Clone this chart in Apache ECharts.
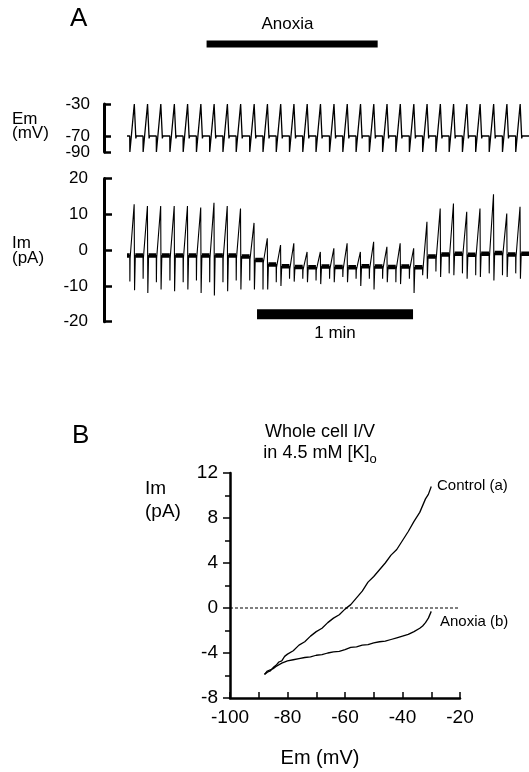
<!DOCTYPE html>
<html><head><meta charset="utf-8">
<script src="https://cdn.jsdelivr.net/npm/echarts@6/dist/echarts.min.js"></script>
<style>html,body{margin:0;padding:0;background:#fff}#c{width:529px;height:772px}</style>
</head><body><div id="c"></div>
<script>
// ---------- Panel A data (time in s) ----------
const peakTimes = [2.8, 7.9, 13.0, 18.2, 23.3, 28.4, 33.5, 38.6, 43.7, 48.9, 54.0, 59.1, 64.2, 69.3, 74.4, 79.6, 84.7, 89.8, 94.9, 100.0, 105.1, 110.3, 115.4, 120.5, 125.6, 130.7, 135.8, 141.0, 146.1, 151.2];
// voltage protocol, one cycle relative to each peak
const emCycleDt = [-1.75, -1.7, -1.55, 0, 0.6, 0.8];
const emCycleMv = [-70, -90, -88, -30, -73, -70];
const emStart = -70;
const traceEnd = 154.6;
// current trace, per cycle
const imPeak = [12.8, 12.3, 12.3, 12.3, 12.3, 11.9, 13.2, 12.3, 11.6, 7.6, 3.3, 1.4, 1.9, -0.5, -0.5, 0.5, 1.9, -0.5, 2.3, 0.9, 1.9, 0.5, 7.9, 11.6, 13.0, 10.7, 11.6, 15.6, 10.2, 12.1];
const imStep = [-8.8, -8, -9, -8.5, -9, -8.5, -9, -9, -8.5, -8.5, -11, -9, -8, -8, -8.5, -8, -7.5, -8, -8, -8, -9, -8, -7, -6, -6.5, -6.5, -7, -6.5, -7, -6.5];
const imDip = [-11.2, -12, -11, -11.5, -11, -12, -12.7, -11.5, -11, -11, -11, -10, -8.8, -9, -9.5, -9, -9, -10, -11, -9, -9.5, -12, -8, -7.5, -7, -8, -7.5, -8.5, -7.5, -8];
const imStart = -1.5;
const imBase = [-1.5, -1.5, -1.5, -1.5, -1.5, -1.5, -1.5, -1.5, -1.8, -2.8, -4.0, -4.5, -4.7, -4.8, -4.6, -4.7, -4.8, -4.5, -4.6, -4.7, -4.6, -4.8, -1.8, -1.2, -1.0, -1.3, -1.0, -0.8, -1.2, -1.0];
const anoxiaPeriod = [30.6, 96.4];
const scaleBar = [50, 110]; // 1 min
const scaleBarLevel = -17.9;
const emTicks = [-90, -70, -30];
const emLabelsUpper = [-70, -30];
const emLabelsLower = [-90];

// ---------- Panel B data ----------
const controlEm = [-88, -87, -86, -85, -84, -83, -82, -81, -80, -78, -76, -74, -72, -70, -68, -66, -64, -62, -60, -58, -56, -54, -52, -50, -48, -46, -44, -42, -41, -40, -38, -36, -34, -32, -31, -30];
const controlIm = [-5.9, -5.7, -5.6, -5.3, -5.1, -4.8, -4.7, -4.3, -4.1, -3.8, -3.3, -3.0, -2.5, -2.1, -1.8, -1.3, -0.9, -0.6, -0.1, 0.3, 0.9, 1.5, 2.3, 2.8, 3.4, 4.0, 4.7, 5.2, 5.6, 6.0, 6.8, 7.7, 8.5, 9.7, 10.1, 10.8];
const anoxEm = [-88, -87, -86, -85, -84, -82, -80, -78, -76, -74, -72, -70, -68, -66, -64, -62, -60, -58, -56, -54, -52, -50, -48, -46, -44, -42, -40, -38, -36, -34, -33, -32, -31, -30];
const anoxIm = [-5.9, -5.6, -5.5, -5.4, -5.2, -4.9, -4.7, -4.6, -4.5, -4.4, -4.35, -4.2, -4.15, -4.0, -3.9, -3.85, -3.7, -3.5, -3.45, -3.3, -3.25, -3.1, -3.0, -2.95, -2.8, -2.65, -2.5, -2.35, -2.1, -1.8, -1.6, -1.3, -0.9, -0.3];
const zeroLine = [[-100, 0], [-20, 0]];

// ---------- build traces ----------
const emData = [[0, emStart]];
peakTimes.forEach(p => emCycleDt.forEach((d, i) => emData.push([p + d, emCycleMv[i]])));
emData.push([traceEnd, emStart]);

const imData = [[0, imStart]];
const bandData = [[0, imStart]];
peakTimes.forEach((p, k) => {
  const bPrev = k === 0 ? imStart : imBase[k - 1];
  imData.push([p - 1.75, bPrev], [p - 1.7, imStep[k]], [p - 1.6, bPrev - 0.8], [p - 0.05, imPeak[k]], [p + 0.1, imDip[k]], [p + 0.4, imBase[k]]);
  bandData.push([p - 1.75, bPrev], ['-', '-'], [p + 0.4, imBase[k]]);
});
imData.push([traceEnd, imBase[imBase.length - 1]]);
bandData.push([traceEnd, imBase[imBase.length - 1]]);

const FONT = 'Liberation Sans';
const black = '#000';
const tMin = -8.85, tMax = 154.6;
const hiddenX = g => ({type: 'value', gridIndex: g, min: tMin, max: tMax, show: false});

const chart = echarts.init(document.getElementById('c'), null, {renderer: 'canvas'});
const txt = (x, y, s, size, align, extra) => ({type: 'text', x, y, style: Object.assign({text: s, fontFamily: FONT, fontSize: size, fill: black, align: align || 'left', verticalAlign: 'middle'}, extra || {})});

chart.setOption({
  animation: false,
  backgroundColor: '#fff',
  grid: [
    {left: 104, right: 0, top: 34, height: 20},
    {left: 104, right: 0, top: 104, height: 48},
    {left: 104, right: 0, top: 178.5, height: 143.2},
    {left: 230, top: 473, width: 230, height: 225}
  ],
  xAxis: [hiddenX(0), hiddenX(1), hiddenX(2),
    {type: 'value', gridIndex: 3, min: -100, max: -20, interval: 20,
     axisLine: {onZero: false, lineStyle: {color: black, width: 2.5}},
     axisTick: {inside: true, length: 6, lineStyle: {color: black, width: 1.5}},
     minorTick: {show: true, splitNumber: 2, length: 6, lineStyle: {color: black, width: 1.5}},
     splitLine: {show: false},
     axisLabel: {fontFamily: FONT, fontSize: 19, color: black, margin: 10}}
  ],
  yAxis: [
    {type: 'value', gridIndex: 0, min: 0, max: 1, show: false},
    {type: 'value', gridIndex: 1, min: -90, max: -30, interval: 20,
     axisLine: {onZero: false, lineStyle: {color: black, width: 3}},
     axisTick: {inside: true, length: 7, customValues: emTicks, lineStyle: {color: black, width: 2.5}},
     axisLabel: {customValues: emLabelsUpper, hideOverlap: false, fontFamily: FONT, fontSize: 17, color: black, margin: 14},
     splitLine: {show: false}},
    {type: 'value', gridIndex: 2, min: -20, max: 20, interval: 10,
     axisLine: {onZero: false, lineStyle: {color: black, width: 3}},
     axisTick: {inside: true, length: 8, lineStyle: {color: black, width: 2.5}},
     axisLabel: {fontFamily: FONT, fontSize: 17, color: black, margin: 16},
     splitLine: {show: false}},
    {type: 'value', gridIndex: 3, min: -8, max: 12, interval: 4,
     axisLine: {onZero: false, lineStyle: {color: black, width: 2.5}},
     axisTick: {inside: false, length: 7, lineStyle: {color: black, width: 1.5}},
     minorTick: {show: true, splitNumber: 2, length: 5, lineStyle: {color: black, width: 1.5}},
     splitLine: {show: false},
     axisLabel: {fontFamily: FONT, fontSize: 19, color: black, margin: 12}},
    {type: 'value', gridIndex: 1, position: 'left', min: -90, max: -30, interval: 20,
     axisLine: {show: false, onZero: false}, axisTick: {show: false},
     axisLabel: {customValues: emLabelsLower, fontFamily: FONT, fontSize: 17, color: black, margin: 14},
     splitLine: {show: false}}
  ],
  series: [
    {type: 'line', xAxisIndex: 0, yAxisIndex: 0, data: anoxiaPeriod.map(t => [t, 0.5]), symbol: 'none', lineStyle: {color: black, width: 7, cap: 'butt'}, clip: false},
    {type: 'line', xAxisIndex: 1, yAxisIndex: 1, data: emData, symbol: 'none', lineStyle: {color: black, width: 1.3}, clip: false},
    {type: 'line', xAxisIndex: 2, yAxisIndex: 2, data: bandData, symbol: 'none', connectNulls: false, lineStyle: {color: black, width: 4.5, cap: 'butt'}, clip: false},
    {type: 'line', xAxisIndex: 2, yAxisIndex: 2, data: imData, symbol: 'none', lineStyle: {color: black, width: 1.1}, clip: false},
    {type: 'line', xAxisIndex: 2, yAxisIndex: 2, data: scaleBar.map(t => [t, scaleBarLevel]), symbol: 'none', lineStyle: {color: black, width: 10, cap: 'butt'}, clip: false},
    {type: 'line', xAxisIndex: 3, yAxisIndex: 3, data: zeroLine, symbol: 'none', lineStyle: {color: black, width: 1.2, type: [3, 2]}},
    {type: 'line', xAxisIndex: 3, yAxisIndex: 3, data: controlEm.map((v, i) => [v, controlIm[i]]), symbol: 'none', lineStyle: {color: black, width: 1.3}},
    {type: 'line', xAxisIndex: 3, yAxisIndex: 3, data: anoxEm.map((v, i) => [v, anoxIm[i]]), symbol: 'none', lineStyle: {color: black, width: 1.3}}
  ],
  graphic: [
    txt(70, 19, 'A', 26),
    txt(287.5, 24, 'Anoxia', 17, 'center'),
    txt(12, 119, 'Em', 17),
    txt(12, 133, '(mV)', 17),
    txt(12, 243, 'Im', 17),
    txt(12, 258, '(pA)', 17),
    txt(335, 333, '1 min', 17, 'center'),
    txt(72, 436, 'B', 26),
    txt(320, 432, 'Whole cell I/V', 18, 'center'),
    {type: 'text', x: 320, y: 453, style: {text: '{n|in 4.5 mM [K]}{s|o}', fontFamily: FONT, fill: black, align: 'center', verticalAlign: 'middle',
      rich: {n: {fontFamily: FONT, fontSize: 18, fill: black}, s: {fontFamily: FONT, fontSize: 13, fill: black, padding: [12, 0, 0, 0]}}}},
    txt(145, 489, 'Im', 19),
    txt(145, 512, '(pA)', 19),
    txt(437, 486, 'Control (a)', 15),
    txt(440, 622, 'Anoxia (b)', 15),
    txt(320, 758, 'Em (mV)', 20, 'center')
  ]
});
</script></body></html>
